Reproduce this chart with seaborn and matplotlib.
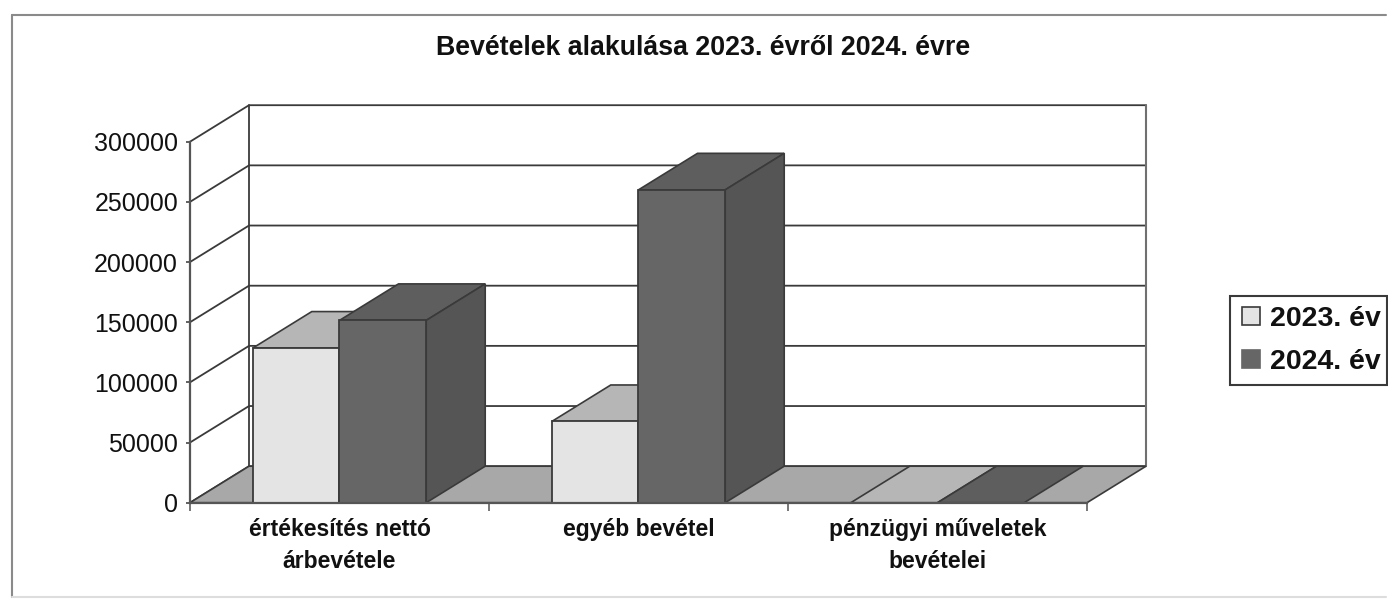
import matplotlib
matplotlib.use("Agg")
import matplotlib.pyplot as plt
from matplotlib.lines import Line2D
from matplotlib.patches import Patch, Polygon, Rectangle
import pandas as pd
import seaborn as sns

categories = ["értékesítés nettó\nárbevétele", "egyéb bevétel", "pénzügyi műveletek\nbevételei"]
series_names = ["2023. év", "2024. év"]
values_2023 = [128500, 67500, 0]
values_2024 = [151500, 260000, 0]
y_ticks = [0, 50000, 100000, 150000, 200000, 250000, 300000]
title = "Bevételek alakulása 2023. évről 2024. évre"

W, H = 1388, 600
LINE = "#3a3a3a"
FRONT = {"2023. év": "#e4e4e4", "2024. év": "#666666"}
TOP = {"2023. év": "#b6b6b6", "2024. év": "#5e5e5e"}
SIDE = {"2023. év": "#bdbdbd", "2024. év": "#555555"}
FLOOR = "#a8a8a8"

sns.set_theme(style="white")
plt.rcParams["font.family"] = ["Liberation Sans", "DejaVu Sans"]

fig = plt.figure(figsize=(W / 100, H / 100), dpi=100, facecolor="white")
left, right, top, bottom = 190, 1087, 141.7, 502.7
ax = fig.add_axes([left / W, 1 - bottom / H, (right - left) / W, (bottom - top) / H])
ax.patch.set_alpha(0)

df = pd.DataFrame({
    "kategória": categories * 2,
    "év": [series_names[0]] * 3 + [series_names[1]] * 3,
    "bevétel": values_2023 + values_2024,
})
sns.barplot(data=df, x="kategória", y="bevétel", hue="év", palette=FRONT, saturation=1,
            width=0.58, gap=0, edgecolor=LINE, linewidth=1.3, legend=False, ax=ax, zorder=5)
ax.set_xlim(-0.5, 2.5)
ax.set_ylim(0, 300000)
ax.set_xlabel("")
ax.set_ylabel("")

# Oblique depth of the pseudo-3D box, converted from pixels to data units
dx = 59 / ((right - left) / 3)
dy = 36.5 / ((bottom - top) / 300000)
x0, x1 = ax.get_xlim()

# Floor and walls
ax.add_patch(Polygon([(x0, 0), (x1, 0), (x1 + dx, dy), (x0 + dx, dy)], closed=True, fc=FLOOR,
                     ec=LINE, lw=1.2, clip_on=False, zorder=1))
for v in y_ticks:
    ax.plot([x0, x0 + dx, x1 + dx], [v, v + dy, v + dy], color=LINE, lw=1.3,
            clip_on=False, zorder=0.5, solid_joinstyle="miter")
ax.plot([x0 + dx, x0 + dx], [dy, 300000 + dy], color=LINE, lw=1.3, clip_on=False, zorder=0.6)
ax.plot([x1 + dx, x1 + dx], [dy, 300000 + dy], color="#707070", lw=1.5, clip_on=False, zorder=0.6)

# Top and side faces follow each bar drawn by seaborn
for name, container in zip(series_names, ax.containers):
    order = 2 if name == series_names[0] else 3
    for bar in container:
        a, b = bar.get_x(), bar.get_x() + bar.get_width()
        h = bar.get_height()
        ax.add_patch(Polygon([(a, h), (b, h), (b + dx, h + dy), (a + dx, h + dy)], closed=True,
                             fc=TOP[name], ec=LINE, lw=1.2, clip_on=False, zorder=order))
        if h > 0:
            ax.add_patch(Polygon([(b, 0), (b + dx, dy), (b + dx, h + dy), (b, h)], closed=True,
                                 fc=SIDE[name], ec=LINE, lw=1.2, clip_on=False, zorder=order))

for side in ("top", "right"):
    ax.spines[side].set_visible(False)
for side in ("left", "bottom"):
    ax.spines[side].set_color("#555555")
    ax.spines[side].set_linewidth(1.6)
    ax.spines[side].set_zorder(6)

ax.set_yticks(y_ticks)
ax.set_yticklabels([str(v) for v in y_ticks])
ax.set_xticks([-0.5, 0.5, 1.5, 2.5], minor=True)
ax.set_xticks([0, 1, 2])
ax.set_xticklabels(categories, fontweight="bold", fontsize=16.5, color="#111111", linespacing=1.5)
ax.tick_params(axis="x", which="major", bottom=False, length=0, pad=11)
ax.tick_params(axis="x", which="minor", bottom=True, length=6, width=1.4, color="#777777")
ax.tick_params(axis="y", left=True, length=3, width=1.3, color="#555555", pad=5.6,
               labelsize=18, labelcolor="#111111")

fig.text(703 / W, 1 - 48 / H, title, ha="center", va="center", fontsize=19.3,
         fontweight="bold", color="#111111")

# Legend box at the right of the plot; the frame is a separate rectangle so it stays on the canvas
fig.add_artist(Rectangle((1230 / W, 1 - 385 / H), 157 / W, 89 / H, transform=fig.transFigure,
                         fc="white", ec=LINE, lw=1.5, zorder=1))
handles = [Patch(facecolor=FRONT[n], edgecolor=LINE if n == series_names[0] else FRONT[n], lw=1.2) for n in series_names]
leg = fig.legend(handles, series_names, loc="center left", bbox_to_anchor=(1230 / W, 1 - 340.5 / H),
                 frameon=False, borderaxespad=0,
                 handlelength=0.62, handleheight=0.62, handletextpad=0.38, borderpad=0.42, labelspacing=0.58,
                 prop={"family": "Liberation Sans", "weight": "bold", "size": 20.5})
leg.set_zorder(2)
for text in leg.get_texts():
    text.set_color("#111111")

# Chart-area border: darker on the top and left, faint on the other two sides
def frame_line(xs, ys, color):
    fig.add_artist(Line2D([x / W for x in xs], [1 - y / H for y in ys], color=color, lw=1.5))

frame_line([12, 12], [15, 597], "#8a8a8a")
frame_line([12, 1386], [15, 15], "#8a8a8a")
frame_line([12, 1386], [597, 597], "#dddddd")

fig.savefig("out.png", dpi=100)
